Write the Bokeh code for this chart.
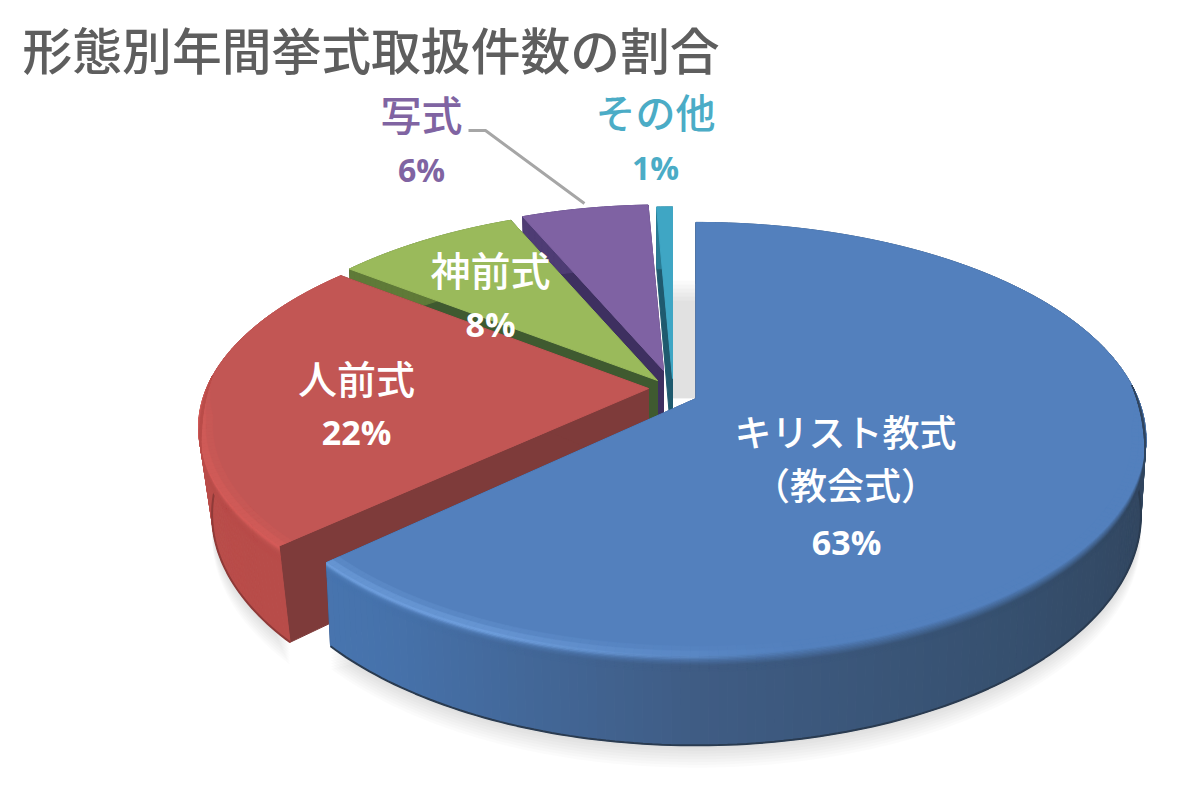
import numpy as np
from bokeh.plotting import figure
from bokeh.models import Range1d
from bokeh.core.properties import value
from bokeh.embed import file_html
from bokeh.resources import INLINE

title = "形態別年間挙式取扱件数の割合"
categories = ["キリスト教式\n（教会式）", "人前式", "神前式", "写式", "その他"]
shares = [63.0, 22.4, 8.1, 5.8, 0.7]

top_colors = ["#5380BD", "#C25654", "#9ABA5B", "#7F62A3", "#3FA6C4"]
cut_colors = ["#2D4B78", "#7E3B3A", "#3F5A30", "#3E3060", "#1F5A6E"]
highlight_colors = ["#70A0DE", "#DC5E5B", "#9ABA5B", "#7F62A3", "#3FA6C4"]
side_stops = [
    [(-1, "#4B7AB6"), (-0.6, "#4672AB"), (0, "#3F5C84"), (0.6, "#36506F"), (1, "#31455E")],
    [(-1, "#BA4D4A"), (1, "#A84442")],
    [(-1, "#5F7A38"), (1, "#5F7A38")],
    [(-1, "#4E3C74"), (1, "#4E3C74")],
    [(-1, "#2A7C94"), (1, "#2A7C94")],
]
apexes = [(695.5, 398), (648, 388), (657, 380), (663, 370), (672, 378)]
radius = [1.0, 1.0, 0.975, 0.93, 0.97]
y_scale = [1.0, 0.96, 1.0, 1.0, 1.0]
depth_scale = [1.0, 1.15, 1.0, 1.0, 1.0]
shrink_rate = [0.011, 0.03, 0.011, 0.011, 0.011]
A, B, P, DEPTH = 442.0, 209.0, 0.187, 73.0
RED_TURN = 1.5

label_pos = [(845, 457), (356, 376), (490, 268), (421, 112), (655, 110)]
pct_pos = [(846, 541), (356, 431), (490, 323), (421, 169), (655, 167)]
label_colors = ["white", "white", "white", "#8064A2", "#4BACC6"]
label_size = [37, 39, 40, 41, 40]
pct_size = [34, 34, 34, 32, 32]


def rgb(h):
    return np.array([int(h[i:i + 2], 16) for i in (1, 3, 5)], float)


def hx(c):
    return "#%02x%02x%02x" % tuple(int(round(v)) for v in c)


def mix(a, b, t):
    return a + (b - a) * t


def project(i, deg, r=1.0, depth=0.0):
    a = np.radians(deg)
    u, v = r * radius[i] * np.cos(a), r * radius[i] * np.sin(a)
    w = 1 + P * v
    ax, ay = apexes[i]
    shrink = 1 - shrink_rate[i] * depth
    return ax + A * u / w * shrink, ay - B * y_scale[i] * v / w + depth * DEPTH * depth_scale[i] / w


p = figure(width=1184, height=784, output_backend="svg", toolbar_location=None,
           x_range=Range1d(0, 1184), y_range=Range1d(784, 0), min_border=0,
           background_fill_color="white", border_fill_color="white")
p.axis.visible = False
p.grid.visible = False
p.outline_line_color = None

edges = 90 - np.cumsum([0] + shares) * 3.6
spans = [(edges[i], edges[i + 1]) for i in range(len(shares))]
spans[1] = (spans[1][0], spans[1][1] - RED_TURN)


def arc(i, n=None):
    s, e = spans[i]
    n = n or max(4, int(abs(s - e) / 1.0))
    return np.linspace(s, e, n + 1)


# soft shadow under the pie
for k in range(1, 9):
    xs, ys = [], []
    for i, angs in ((0, np.linspace(2, spans[0][1], 140)), (1, np.linspace(spans[1][0], -178, 30))):
        pts = [project(i, t, 1.0, 1.0) for t in angs]
        xs.append([q[0] for q in pts])
        ys.append([q[1] + k * 2.8 for q in pts])
    p.patches(xs, ys, fill_color="#000000", fill_alpha=0.015, line_color=None)

# shadow visible in the gap next to the blue slice
bx, by = apexes[0]
for k in range(6):
    p.quad(left=bx - 24, right=bx, top=by - 118 + k * 4, bottom=by,
           fill_color="#000000", fill_alpha=0.02, line_color=None)

LAYERS = 14
# back to front
for i in [4, 3, 2, 1, 0]:
    top = rgb(top_colors[i])
    hl = rgb(highlight_colors[i])
    stops = side_stops[i]
    su = [s[0] for s in stops]
    sc = np.array([rgb(s[1]) for s in stops])

    def side_color(u):
        return np.array([np.interp(u, su, sc[:, c]) for c in range(3)])

    # cut faces
    for ang in spans[i]:
        o0, o1 = project(i, ang, 0.0), project(i, ang, 0.0, 1.0)
        e0, e1 = project(i, ang), project(i, ang, 1.0, 1.0)
        p.patch([o0[0], e0[0], e1[0], o1[0]], [o0[1], e0[1], e1[1], o1[1]],
                fill_color=cut_colors[i], line_color=cut_colors[i], line_width=1)

    # outer wall
    angs = arc(i)
    qx, qy, qc = [], [], []
    for a0, a1 in zip(angs[:-1], angs[1:]):
        u = np.cos(np.radians((a0 + a1) / 2))
        c = hx(side_color(u))
        t0, t1 = project(i, a0), project(i, a1)
        b0, b1 = project(i, a0, 1, 1), project(i, a1, 1, 1)
        qx.append([t0[0], t1[0], b1[0], b0[0]])
        qy.append([t0[1], t1[1], b1[1], b0[1]])
        qc.append(c)
    p.patches(qx, qy, fill_color=qc, line_color=qc, line_width=1)

    # darker lower edge of the wall
    low = [project(i, t, 1, 1) for t in angs if np.sin(np.radians(t)) < 0.05]
    if low and i < 2:
        p.line([q[0] for q in low], [q[1] for q in low], line_color=hx(sc[-1] * 0.85), line_width=2)

    # top face
    pts = [project(i, 0, 0.0)] + [project(i, t) for t in angs]
    p.patch([q[0] for q in pts], [q[1] for q in pts], fill_color=top_colors[i],
            line_color=top_colors[i], line_width=1)

    # soft bevel between face and wall, tapering out towards the back
    if i < 2:
        fine = arc(i, int(abs(spans[i][0] - spans[i][1])))
        mids = (fine[:-1] + fine[1:]) / 2
        pos = np.linspace(-0.03, 0.18, LAYERS + 1)

        def at(a, q):
            v = np.sin(np.radians(a))
            f = np.clip((0.06 - v) / 0.2, 0, 1)
            q = q * f
            if q < 0:
                return project(i, a, 1 + q, 0)
            return project(i, a, 1, q)

        for k in range(LAYERS):
            q0, q1 = pos[k], pos[k + 1]
            qm = (q0 + q1) / 2
            h_w = np.exp(-((qm - 0.015) / 0.032) ** 2)
            s_w = np.clip((qm + 0.005) / 0.12, 0, 1)
            qx, qy, qc = [], [], []
            for a0, a1, am in zip(fine[:-1], fine[1:], mids):
                u = np.cos(np.radians(am))
                v = np.sin(np.radians(am))
                if v > 0.06:
                    continue
                s = np.clip((0.2 - u) / 0.6, 0, 1) * np.clip((0.1 - v) / 0.25, 0, 1)
                if i == 1:
                    s *= 0.8
                base = mix(mix(top, side_color(u), s_w), hl, s * h_w)
                c = hx(base)
                p0, p1 = at(a0, q0), at(a1, q0)
                p2, p3 = at(a1, q1), at(a0, q1)
                qx.append([p0[0], p1[0], p2[0], p3[0]])
                qy.append([p0[1], p1[1], p2[1], p3[1]])
                qc.append(c)
            if qx:
                p.patches(qx, qy, fill_color=qc, line_color=qc, line_width=0.6)

# leader line of the small slice
lead = project(3, 103.0)
p.line([468, 485, lead[0]], [130, 130, lead[1] - 5], line_color="#A6A6A6", line_width=3)

medium = value("Noto Sans CJK JP Medium")
p.text(x=[22], y=[47], text=[title], text_font=medium, text_font_size="49.8px",
       text_color="#5E5E5E", text_align="left", text_baseline="middle")

for i, name in enumerate(categories):
    lines = name.split("\n")
    cx, cy = label_pos[i]
    step = 53
    for j, line in enumerate(lines):
        yy = cy - step * (len(lines) - 1) / 2 + j * step
        p.text(x=[cx], y=[yy], text=[line], text_font=medium, text_font_size=f"{label_size[i]}px",
               text_color=label_colors[i], text_align="center", text_baseline="middle")
    px, py = pct_pos[i]
    p.text(x=[px], y=[py], text=[f"{round(shares[i])}%"], text_font=value("Open Sans"),
           text_font_style="bold", text_font_size=f"{pct_size[i]}px",
           text_color=label_colors[i], text_align="center", text_baseline="middle")

open("out.html", "w").write(file_html(p, INLINE))
